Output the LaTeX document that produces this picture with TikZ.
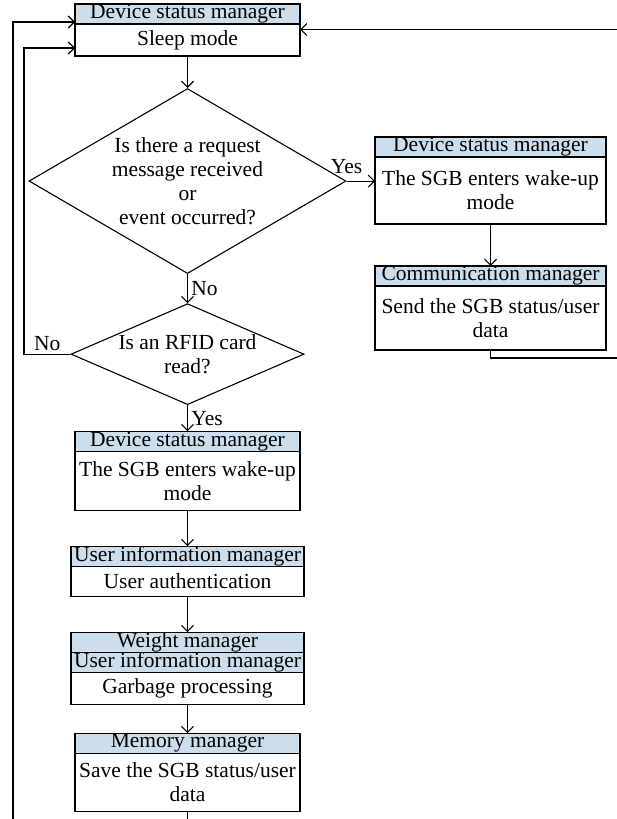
\documentclass[tikz,border=0pt]{standalone}
\usepackage{fontspec}
\setmainfont{Liberation Serif}
\usetikzlibrary{arrows.meta,positioning,shapes.geometric}
\definecolor{headblue}{RGB}{204,222,235}

\begin{document}
\begin{tikzpicture}[x=1pt,y=1pt,line width=1.1pt,
  >={Straight Barb[length=6pt,width=12pt]},
  font=\fontsize{21.5}{24}\selectfont,
  head/.style={draw,fill=headblue,minimum width=#1pt,minimum height=20pt,inner sep=0pt,outer sep=0pt},
  body/.style={draw,minimum width=#1pt,align=center,inner sep=0pt,outer sep=0pt},
  decision/.style={draw,diamond,inner sep=0pt}]
  \useasboundingbox (0,0) rectangle (617,-819);
  % main column
  \node[head=225] (sleepH) at (187.5,-14) {Device status manager};
  \node[body=225,minimum height=32pt,below=0pt of sleepH] (sleep) {Sleep mode};
  \node[decision,minimum width=317pt,minimum height=185pt,below=32pt of sleep] (ask) {};
  \node[align=center] (askT) at (ask) {Is there a request\\message received\\or\\event occurred?};
  \node[decision,minimum width=233pt,minimum height=101pt,below=29pt of ask] (rfid) {};
  \node[align=center] (rfidT) at (rfid) {Is an RFID card\\read?};
  \node[head=225,below=26pt of rfid] (wakeLH) {Device status manager};
  \node[body=225,minimum height=59pt,below=0pt of wakeLH] (wakeL) {The SGB enters wake-up\\mode};
  \node[head=233,below=36pt of wakeL] (authH) {User information manager};
  \node[body=233,minimum height=30pt,below=0pt of authH] (auth) {User authentication};
  \node[head=233,below=36pt of auth] (weightH) {Weight manager};
  \node[head=233,below=0pt of weightH] (userH) {User information manager};
  \node[body=233,minimum height=32pt,below=0pt of userH] (garbage) {Garbage processing};
  \node[head=225,below=29pt of garbage] (saveH) {Memory manager};
  \node[body=225,minimum height=58pt,below=0pt of saveH] (save) {Save the SGB status/user\\data};
  % right column
  \node[head=231] (wakeRH) at (490.5,-147) {Device status manager};
  \node[body=231,minimum height=67pt,below=0pt of wakeRH] (wakeR) {The SGB enters wake-up\\mode};
  \node[head=231,below=42pt of wakeR] (sendH) {Communication manager};
  \node[body=231,minimum height=64pt,below=0pt of sendH] (send) {Send the SGB status/user\\data};
  % loose ends
  \coordinate (inR) at (617,-29.5);
  \coordinate (backR) at (617,-358);
  \coordinate (backA) at (13,-819);
  \coordinate (backB) at (24,-352);
  \coordinate (outB) at (187.5,-819);
  % connectors
  \draw[->] (sleep) -- (ask);
  \draw[->] (ask) -- node[right] {No} (rfid);
  \draw[->] (ask.east) -- node[pos=0,above,yshift=3pt] {Yes} (ask.east -| wakeR.west);
  \draw[->] (rfid) -- node[right] {Yes} (wakeLH);
  \draw[->] (wakeL) -- (authH);
  \draw[->] (auth) -- (weightH);
  \draw[->] (garbage) -- (saveH);
  \draw (save) -- (outB);
  \draw[->] (wakeR) -- (sendH);
  \draw (send.south) |- (backR);
  \draw[->] (inR) -- (inR -| sleep.east);
  \draw[->] (rfid.west) -- node[above] {No} (rfid.west -| backB) |- ([yshift=-8pt]sleep.west);
  \draw[->] (backA) |- ([yshift=2pt]sleepH.south west);
\end{tikzpicture}
\end{document}
